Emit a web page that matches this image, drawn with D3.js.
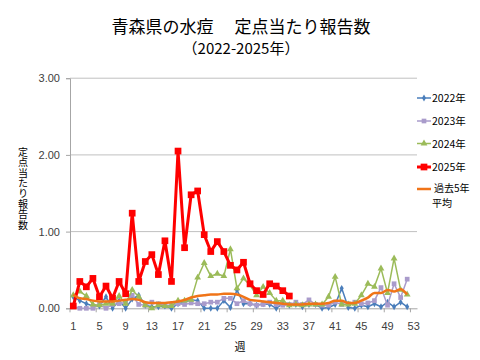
<!DOCTYPE html>
<html><head><meta charset="utf-8">
<script src="https://cdn.jsdelivr.net/npm/d3@7"></script>
<style>body{margin:0;background:#fff}svg{display:block}</style>
</head><body>
<svg id="c" width="480" height="360"></svg>
<script>
const weeks = d3.range(1, 54);
const tickWeeks = [1,5,9,13,17,21,25,29,33,37,41,45,49,53];
const yTicks = [0,1,2,3];
const seriesNames = ["2022年","2023年","2024年","2025年","過去5年平均"];
const s2022 = [0.15,0.10,0.06,0.03,0.03,0.15,0.00,0.10,0.00,0.12,0.17,0.04,0.02,0.02,0.03,0.00,0.06,0.08,0.11,0.10,0.00,0.00,0.00,0.10,0.01,0.24,0.06,0.06,0.04,0.06,0.05,0.00,0.06,0.04,0.05,0.02,0.05,0.05,0.00,0.01,0.05,0.26,0.01,0.00,0.04,0.02,0.06,0.02,0.08,0.02,0.08,0.02];
const s2023 = [0.02,0.00,0.00,0.00,0.05,0.00,0.05,0.06,0.08,0.17,0.05,0.04,0.08,0.06,0.04,0.04,0.06,0.05,0.07,0.06,0.06,0.08,0.08,0.13,0.13,0.06,0.10,0.06,0.04,0.05,0.08,0.05,0.04,0.05,0.08,0.05,0.11,0.05,0.04,0.04,0.08,0.05,0.06,0.08,0.06,0.07,0.10,0.27,0.04,0.32,0.14,0.38];
const s2024 = [0.17,0.22,0.16,0.05,0.04,0.06,0.06,0.16,0.06,0.24,0.15,0.04,0.00,0.04,0.03,0.03,0.10,0.10,0.11,0.40,0.59,0.42,0.45,0.42,0.77,0.26,0.39,0.30,0.17,0.28,0.20,0.10,0.10,0.04,0.05,0.04,0.05,0.05,0.05,0.15,0.41,0.05,0.05,0.06,0.17,0.32,0.28,0.52,0.20,0.65,0.24,0.18];
const s2025 = [0.03,0.35,0.28,0.39,0.15,0.29,0.13,0.35,0.19,1.24,0.35,0.61,0.70,0.44,0.88,0.35,2.05,0.79,1.48,1.53,0.96,0.74,0.87,0.74,0.56,0.50,0.60,0.32,0.23,0.18,0.32,0.29,0.23,0.16];
const sAvg = [0.18,0.13,0.12,0.10,0.09,0.09,0.09,0.10,0.11,0.12,0.11,0.08,0.07,0.07,0.07,0.08,0.09,0.11,0.14,0.16,0.17,0.18,0.18,0.19,0.19,0.18,0.15,0.11,0.10,0.09,0.08,0.07,0.06,0.05,0.05,0.05,0.06,0.06,0.06,0.07,0.10,0.10,0.07,0.07,0.10,0.14,0.20,0.20,0.24,0.22,0.25,0.18];

const styles = [
  {data:s2022, color:"#4A7EBB", width:1.5, marker:"diamond", msize:14},
  {data:s2023, color:"#A99BCB", width:1.5, marker:"square", msize:22},
  {data:s2024, color:"#9BBB59", width:1.5, marker:"triangle", msize:20},
  {data:s2025, color:"#FF0000", width:3, marker:"square", msize:45},
  {data:sAvg, color:"#F07418", width:2.5, marker:null, msize:0, smooth:true}
];

const svg = d3.select("#c");
const L = 70, R = 417, T = 78.2, B = 308.3;
const x = d3.scaleBand().domain(weeks).range([L, R]);
const y = d3.scaleLinear().domain([0, 3]).range([B, T]);
const cx = w => x(w) + x.bandwidth()/2;
const numFont = "'Liberation Sans', Arial, sans-serif";
const jpFont = "'Noto Sans CJK JP', sans-serif";

// gridlines
svg.append("g").selectAll("line").data(yTicks.slice(1)).join("line")
  .attr("x1", L).attr("x2", R).attr("y1", d => y(d)).attr("y2", d => y(d))
  .attr("stroke", "#C0C0C0").attr("stroke-width", 1);

// y axis
const yAxis = svg.append("g").attr("transform", `translate(${L},0)`)
  .call(d3.axisLeft(y).tickValues(yTicks).tickFormat(d3.format(".2f")).tickSize(4).tickPadding(6));
yAxis.select(".domain").attr("stroke", "#A6A6A6");
yAxis.selectAll(".tick line").attr("stroke", "#A6A6A6");
yAxis.selectAll("text").attr("font-family", numFont).attr("font-size", 11).attr("fill", "#404040");

// x axis
const xAxis = svg.append("g").attr("transform", `translate(0,${B})`)
  .call(d3.axisBottom(x).tickValues(tickWeeks).tickSize(0).tickPadding(14));
xAxis.select(".domain").attr("stroke", "#A6A6A6");
xAxis.selectAll("text").attr("font-family", numFont).attr("font-size", 11).attr("fill", "#404040");
// category boundary tick marks every 4 weeks
svg.append("g").selectAll("line").data(tickWeeks).join("line")
  .attr("x1", d => x(d)).attr("x2", d => x(d)).attr("y1", B).attr("y2", B + 4)
  .attr("stroke", "#A6A6A6");

// series
const symType = {diamond: d3.symbolDiamond, square: d3.symbolSquare, triangle: d3.symbolTriangle};
styles.forEach(s => {
  const pts = s.data.map((v, i) => [weeks[i], v]);
  const line = d3.line().x(d => cx(d[0])).y(d => y(d[1]));
  if (s.smooth) line.curve(d3.curveMonotoneX);
  svg.append("path").datum(pts).attr("d", line).attr("fill", "none")
    .attr("stroke", s.color).attr("stroke-width", s.width).attr("stroke-linejoin", "round");
  if (s.marker) {
    svg.append("g").selectAll("path").data(pts).join("path")
      .attr("transform", d => `translate(${cx(d[0])},${y(d[1])})`)
      .attr("d", d3.symbol().type(symType[s.marker]).size(s.msize))
      .attr("fill", s.color);
  }
});

// title
svg.append("text").attr("x", 241).attr("y", 33).attr("text-anchor", "middle")
  .attr("font-family", jpFont).attr("font-size", 17).attr("fill", "#000")
  .style("white-space", "pre").text("青森県の水痘　 定点当たり報告数");
svg.append("text").attr("x", 241).attr("y", 54).attr("text-anchor", "middle")
  .attr("font-family", jpFont).attr("font-size", 15).attr("fill", "#000")
  .text("（2022-2025年）");

// y title vertical (single text, vertical writing)
svg.append("text").attr("x", 23).attr("y", 147)
  .attr("font-family", jpFont).attr("font-size", 10).attr("fill", "#000")
  .style("writing-mode", "vertical-rl").style("text-orientation", "upright")
  .style("letter-spacing", "0.4px")
  .text("定点当たり報告数");

// x title
svg.append("text").attr("x", 240).attr("y", 351).attr("text-anchor", "middle")
  .attr("font-family", jpFont).attr("font-size", 11).attr("fill", "#000").text("週");

// legend
const legY = [98, 121, 143.5, 167, 189];
styles.forEach((s, i) => {
  const g = svg.append("g").attr("transform", `translate(417,${legY[i]})`);
  g.append("line").attr("x1", 0).attr("x2", 14).attr("stroke", s.color).attr("stroke-width", s.width);
  if (s.marker) g.append("path").attr("transform", "translate(7,0)")
    .attr("d", d3.symbol().type(symType[s.marker]).size(s.msize)).attr("fill", s.color);
  if (i < 4) {
    g.append("text").attr("x", 15).attr("y", 4).attr("font-family", jpFont).attr("font-size", 10.5)
      .attr("fill", "#000").text(seriesNames[i]);
  } else {
    g.append("text").attr("x", 17).attr("y", 3).attr("font-family", jpFont).attr("font-size", 10)
      .attr("fill", "#000").text(seriesNames[i].slice(0, 4));
    g.append("text").attr("x", 15).attr("y", 18).attr("font-family", jpFont).attr("font-size", 10)
      .attr("fill", "#000").text(seriesNames[i].slice(4));
  }
});
</script>
</body></html>
